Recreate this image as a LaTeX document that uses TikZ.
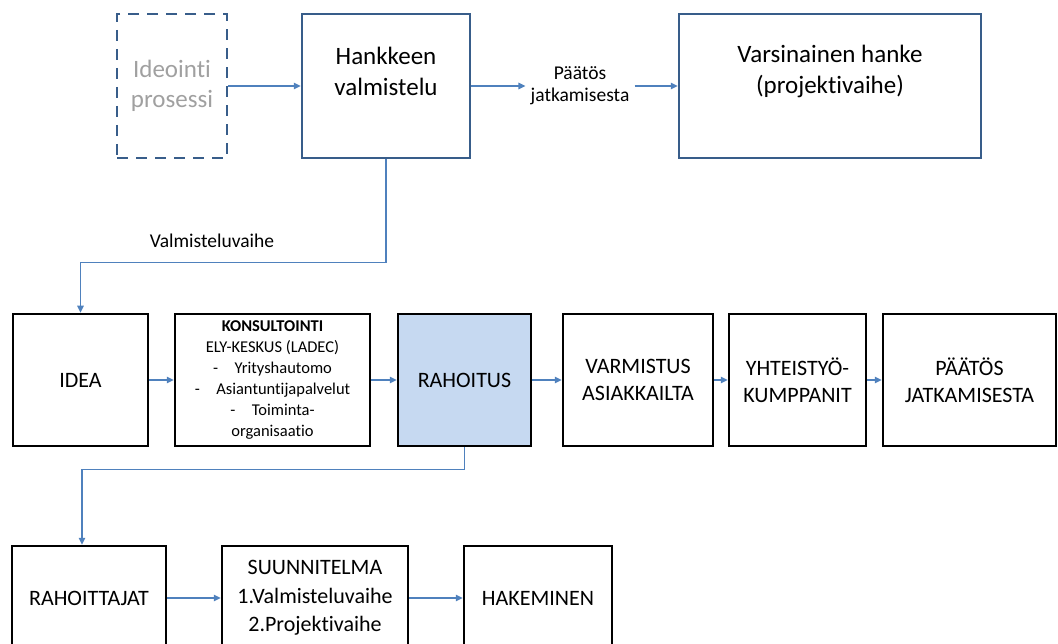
\documentclass[tikz,border=0pt]{standalone}
\usepackage{fontspec}
\setmainfont{Carlito}[Ligatures={NoCommon}]
\usetikzlibrary{arrows.meta}
\definecolor{reunasini}{HTML}{385D8A}
\definecolor{nuolisini}{HTML}{4F81BD}
\definecolor{rahoitussini}{HTML}{C6D9F1}
\definecolor{ideaharmaa}{HTML}{A0A0A0}
\tikzstyle{laatikko}=[draw, line width=2.5pt, inner sep=0pt, align=center]
\tikzstyle{ylalaatikko}=[laatikko, draw=reunasini, minimum height=144pt]
\tikzstyle{keskilaatikko}=[laatikko, minimum height=132pt, font=\fontsize{22}{27}\selectfont]
\tikzstyle{alalaatikko}=[laatikko, minimum height=104pt, font=\fontsize{22}{28.5}\selectfont]
\tikzstyle{ylateksti}=[align=center, font=\fontsize{25}{31}\selectfont]
\tikzstyle{vaiheteksti}=[align=center, inner xsep=5pt, font=\fontsize{19.5}{22}\selectfont]
\tikzstyle{yhteys}=[draw=nuolisini, line width=1.3pt, -{Triangle[length=7pt,width=6.5pt]}]

\begin{document}
\begin{tikzpicture}[x=1pt, y=-1pt]
  \clip (0,0) rectangle (1058,644);
  %ylarivi
  \node[ylalaatikko, draw=reunasini, dash pattern=on 11pt off 8pt, minimum width=110pt,
        text=ideaharmaa, font=\fontsize{25}{30}\selectfont] (ideointi) at (172,86) {Ideointi\\prosessi};
  \node[ylalaatikko, minimum width=168pt] (hankkeen) at (386,86) {};
  \node[ylateksti] (hankkeenteksti) at (386,71) {Hankkeen\\valmistelu};
  \node[vaiheteksti] (paatos) at (580,86) {Päätös\\jatkamisesta};
  \node[ylalaatikko, minimum width=302pt] (varsinainen) at (830,86) {};
  \node[ylateksti] (varsinainenteksti) at (830,71) {Varsinainen hanke\\(projektivaihe)};
  \draw[yhteys] (ideointi.east) -- (hankkeen.west);
  \draw[yhteys] (hankkeen.east) -- (paatos.west);
  \draw[yhteys] (paatos.east) -- (varsinainen.west);
  %valmisteluvaihe
  \node[laatikko, draw=none, font=\fontsize{19.5}{22}\selectfont] (valmisteluvaihe) at (212,241) {Valmisteluvaihe};
  %keskirivi
  \node[keskilaatikko, minimum width=135pt] (idea) at (80.5,380) {IDEA};
  \node[keskilaatikko, minimum width=195pt, font=\fontsize{16.5}{21}\selectfont] (konsultointi) at (272.5,380)
       {\textbf{KONSULTOINTI}\\ELY-KESKUS (LADEC)\\-\quad Yrityshautomo\\-\quad Asiantuntijapalvelut\\-\quad Toiminta-\\organisaatio};
  \node[keskilaatikko, minimum width=133pt, fill=rahoitussini] (rahoitus) at (464.5,380) {RAHOITUS};
  \node[keskilaatikko, minimum width=150pt] (varmistus) at (638,380) {VARMISTUS\\ASIAKKAILTA};
  \node[keskilaatikko, minimum width=137pt] (yhteistyo) at (797.5,380) {YHTEISTYÖ-\\KUMPPANIT};
  \node[keskilaatikko, minimum width=173pt] (jatkaminen) at (969.5,380) {PÄÄTÖS\\JATKAMISESTA};
  \draw[yhteys] (hankkeen.south) -- ++(0,103) -| (idea.north);
  \draw[yhteys] (idea) -- (konsultointi);
  \draw[yhteys] (konsultointi) -- (rahoitus);
  \draw[yhteys] (rahoitus) -- (varmistus);
  \draw[yhteys] (varmistus) -- (yhteistyo);
  \draw[yhteys] (yhteistyo) -- (jatkaminen);
  %alarivi
  \node[alalaatikko, minimum width=154pt] (rahoittajat) at (89,598) {RAHOITTAJAT};
  \node[alalaatikko, minimum width=186pt] (suunnitelma) at (315,598) {SUUNNITELMA\\1.Valmisteluvaihe\\2.Projektivaihe};
  \node[alalaatikko, minimum width=148pt] (hakeminen) at (538,598) {HAKEMINEN};
  \draw[yhteys] (rahoitus.south) -- ++(0,22) -| ([xshift=-7pt]rahoittajat.north);
  \draw[yhteys] (rahoittajat) -- (suunnitelma);
  \draw[yhteys] (suunnitelma) -- (hakeminen);
\end{tikzpicture}
\end{document}
